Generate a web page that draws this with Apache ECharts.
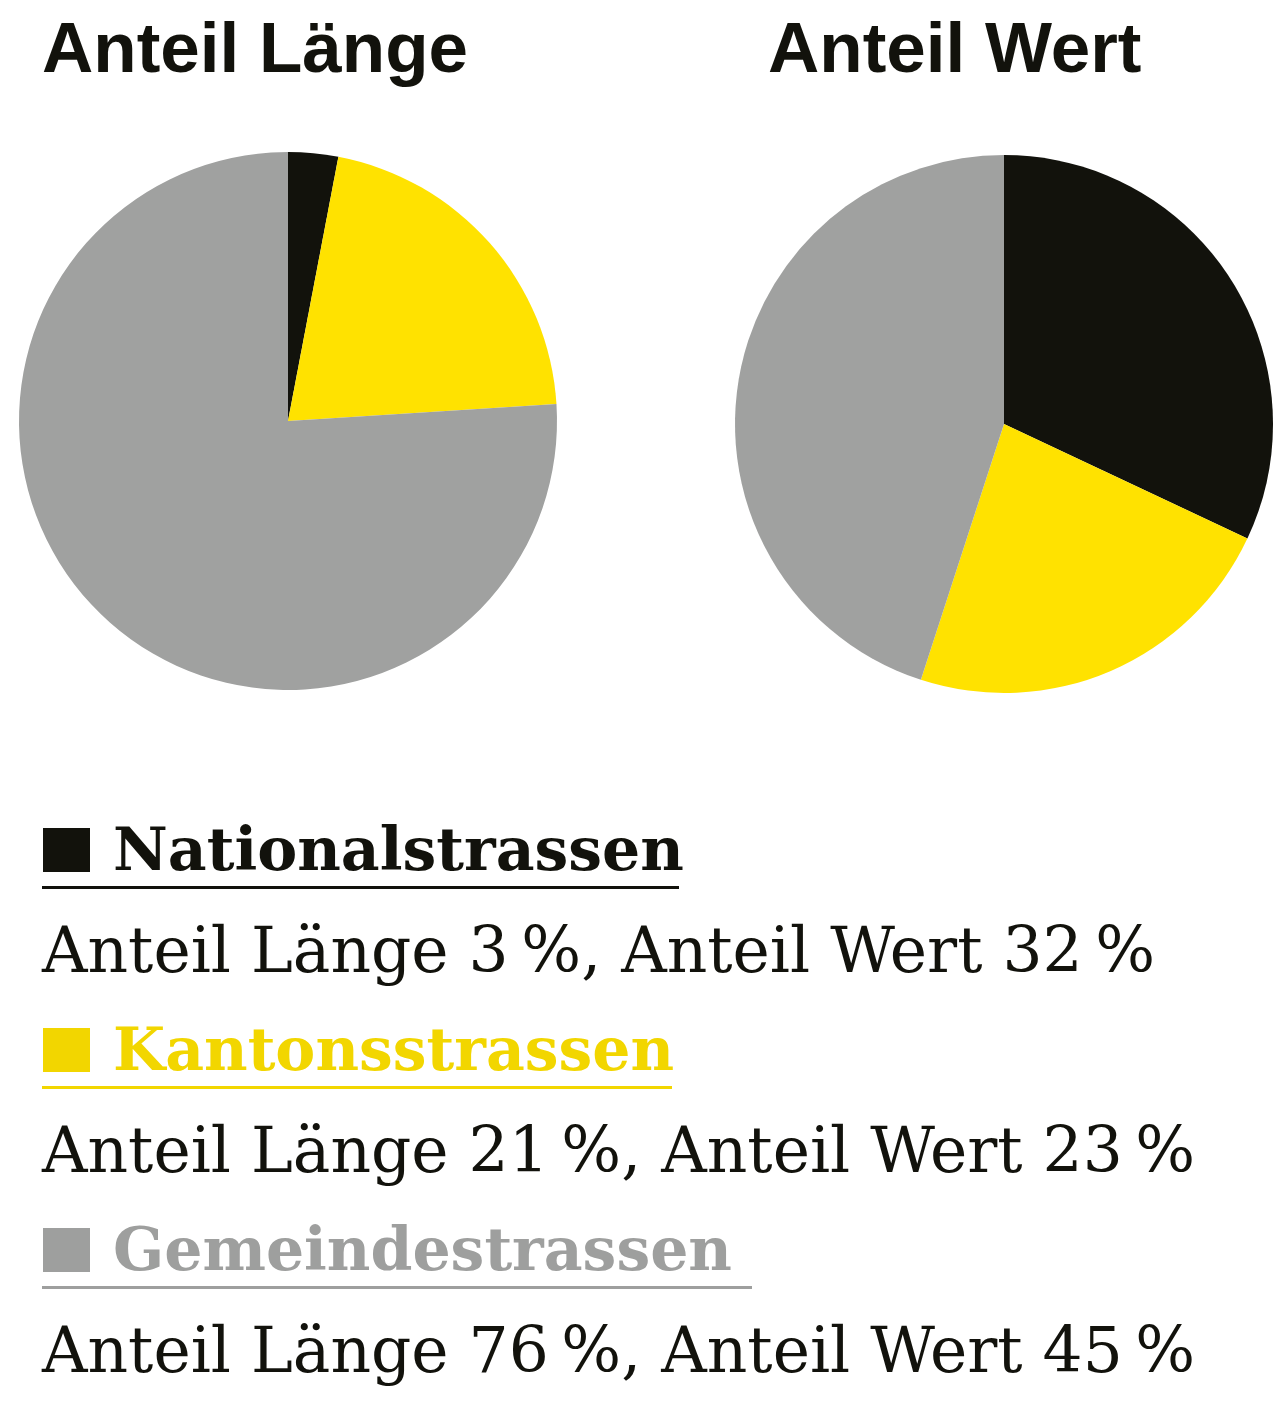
<!DOCTYPE html>
<html>
<head>
<meta charset="utf-8">
<script src="https://cdn.jsdelivr.net/npm/echarts@6/dist/echarts.min.js"></script>
<style>
  html, body { margin: 0; padding: 0; background: #fff; }
  #chart { width: 1286px; height: 1411px; }
</style>
</head>
<body>
<div id="chart"></div>
<script>
// data
const categories = ['Nationalstrassen', 'Kantonsstrassen', 'Gemeindestrassen']
const shareLength = [3, 21, 76]
const shareValue = [32, 23, 45]
const pieTitles = ['Anteil Länge', 'Anteil Wert']

const pieColors = ['#12120c', '#ffe200', '#a0a1a0']
const textColors = ['#12120c', '#f2d600', '#9e9f9e']
const underlineEnd = [679, 672, 752]

const chart = echarts.init(document.getElementById('chart'))

function pieData(values) {
  return categories.map((name, i) => ({
    name,
    value: values[i],
    itemStyle: { color: pieColors[i] },
  }))
}

const pct = (v) => v + '\u202f%'

const graphics = [
  {
    type: 'text', x: 42, y: 52,
    style: { text: pieTitles[0], font: 'bold 71px "Liberation Sans", Arial', fill: '#12120c', verticalAlign: 'middle' },
  },
  {
    type: 'text', x: 768, y: 52,
    style: { text: pieTitles[1], font: 'bold 71px "Liberation Sans", Arial', fill: '#12120c', verticalAlign: 'middle' },
  },
]

categories.forEach((name, i) => {
  const top = 828 + i * 200
  graphics.push(
    { type: 'rect', shape: { x: 43, y: top, width: 47, height: 44 }, style: { fill: textColors[i] } },
    {
      type: 'text', x: 113, y: top + 26,
      style: { text: name, font: 'bold 60px "DejaVu Serif"', fill: textColors[i], verticalAlign: 'middle' },
    },
    {
      type: 'rect', shape: { x: 42, y: top + 58, width: underlineEnd[i] - 42, height: 3 },
      style: { fill: textColors[i] },
    },
    {
      type: 'text', x: 42, y: top + 128,
      style: {
        text: pieTitles[0] + ' ' + pct(shareLength[i]) + ', ' + pieTitles[1] + ' ' + pct(shareValue[i]),
        font: '63px "DejaVu Serif"', fill: '#12120c', verticalAlign: 'middle',
      },
    }
  )
})

chart.setOption({
  animation: false,
  graphic: graphics,
  series: [
    {
      type: 'pie',
      center: [288, 421],
      radius: 269,
      startAngle: 90,
      clockwise: true,
      label: { show: false },
      labelLine: { show: false },
      emphasis: { disabled: true },
      data: pieData(shareLength),
    },
    {
      type: 'pie',
      center: [1004, 424],
      radius: 269,
      startAngle: 90,
      clockwise: true,
      label: { show: false },
      labelLine: { show: false },
      emphasis: { disabled: true },
      data: pieData(shareValue),
    },
  ],
})
</script>
</body>
</html>
